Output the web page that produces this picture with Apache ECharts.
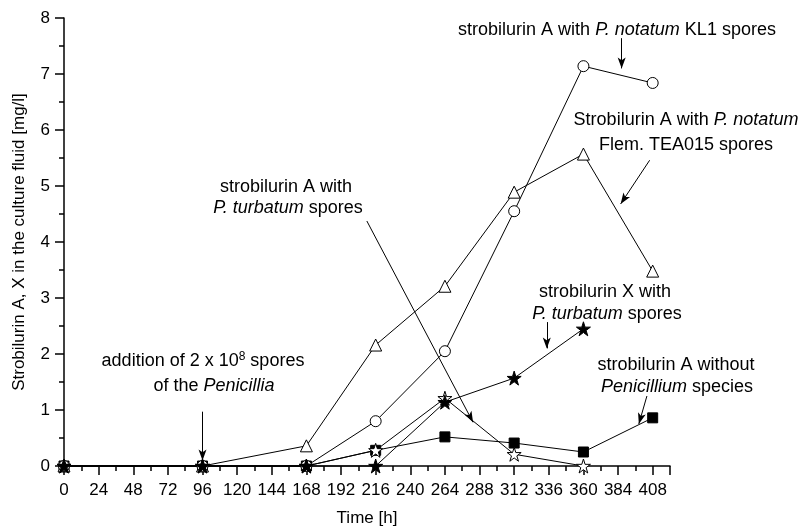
<!DOCTYPE html>
<html>
<head>
<meta charset="utf-8">
<script src="https://cdn.jsdelivr.net/npm/echarts@6/dist/echarts.min.js"></script>
<style>html,body{margin:0;padding:0;background:#fff}#c{width:801px;height:528px}</style>
</head>
<body>
<div id="c"></div>
<script>
const times = [0, 96, 168, 216, 264, 312, 360, 408];
const kl1 = [0, 0, 0, 0.8, 2.05, 4.55, 7.14, 6.84];
const tea015 = [0, 0, 0.36, 2.16, 3.21, 4.89, 5.57, 3.48];
const noPen = [0, 0, 0, 0.28, 0.52, 0.41, 0.25, 0.86];
const turbA = [0, 0, 0, 0.28, 1.21, 0.21, 0, null];
const turbX = [0, 0, 0, 0, 1.14, 1.57, 2.45, null];
const xTickLabels = [0, 24, 48, 72, 96, 120, 144, 168, 192, 216, 240, 264, 288, 312, 336, 360, 384, 408];
const yTickLabels = [0, 1, 2, 3, 4, 5, 6, 7, 8];

const FONT = '"Liberation Sans", Arial, sans-serif';
const STAR = 'path://M50,0 L61.2,34.5 L97.6,34.5 L68.2,55.9 L79.4,90.5 L50,69.1 L20.6,90.5 L31.8,55.9 L2.4,34.5 L38.8,34.5 Z';

function pairs(arr) {
  const out = [];
  times.forEach((t, i) => { if (arr[i] !== null && arr[i] !== undefined) out.push([t, arr[i]]); });
  return out;
}
function lineSeries(name, arr, symbol, size, fill) {
  return {
    name, type: 'line', data: pairs(arr), xAxisIndex: 0, yAxisIndex: 0,
    symbol, symbolSize: size, showAllSymbol: true,
    lineStyle: { color: '#000', width: 1 },
    itemStyle: { color: fill, borderColor: '#000', borderWidth: 1 },
    emphasis: { disabled: true }, animation: false, clip: false
  };
}

const chart = echarts.init(document.getElementById('c'), null, { renderer: 'canvas' });

const arrowSeg = (x1, y1, x2, y2) => [
  { coord: [x1, y1], symbol: 'none' },
  { coord: [x2, y2], symbol: 'arrow' }
];

const FS = 18;
const txt = (x, y, text) => ({
  type: 'text', x, y, silent: true,
  style: {
    text, font: FS + 'px ' + FONT, fill: '#000', align: 'center', verticalAlign: 'middle',
    lineHeight: 20,
    rich: {
      i: { fontStyle: 'italic', fontSize: FS, fontFamily: FONT, lineHeight: 20 },
      sup: { fontSize: 12, fontFamily: FONT, verticalAlign: 'top', lineHeight: 12 }
    }
  }
});

const option = {
  backgroundColor: '#fff',
  animation: false,
  grid: { left: 64, right: 131, top: 18, bottom: 62, containLabel: false, outerBoundsMode: 'none' },
  xAxis: [
    {
      type: 'value', min: 0, max: 420, interval: 12,
      name: 'Time [h]', nameLocation: 'middle', nameGap: 44,
      nameTextStyle: { fontFamily: FONT, fontSize: 17, color: '#000' },
      axisLine: { show: true, onZero: false, lineStyle: { color: '#000', width: 1.5 } },
      axisTick: { show: true, inside: false, length: 5, lineStyle: { color: '#000', width: 1.5 } },
      axisLabel: {
        margin: 16, fontFamily: FONT, fontSize: 17, color: '#000',
        formatter: v => (xTickLabels.indexOf(v) >= 0 ? String(v) : '')
      },
      splitLine: { show: false }
    },
    {
      type: 'value', min: 0, max: 420, interval: 24, position: 'bottom',
      axisLine: { show: false, onZero: false },
      axisTick: { show: true, inside: false, length: 9, lineStyle: { color: '#000', width: 1.5 } },
      axisLabel: { show: false }, splitLine: { show: false }
    }
  ],
  yAxis: {
    type: 'value', min: 0, max: 8, interval: 1,
    name: 'Strobilurin A, X in the culture fluid [mg/l]', nameLocation: 'middle', nameGap: 36,
    nameTextStyle: { fontFamily: FONT, fontSize: 17, color: '#000' },
    axisLine: { show: true, onZero: false, lineStyle: { color: '#000', width: 1.5 } },
    axisTick: { show: true, inside: false, length: 9, lineStyle: { color: '#000', width: 1.5 } },
    minorTick: { show: true, splitNumber: 2, length: 5, lineStyle: { color: '#000', width: 1.5 } },
    axisLabel: {
      margin: 14, fontFamily: FONT, fontSize: 17, color: '#000',
      formatter: v => (yTickLabels.indexOf(v) >= 0 ? String(v) : '')
    },
    splitLine: { show: false }, minorSplitLine: { show: false }
  },
  series: [
    lineSeries('strobilurin A without Penicillium', noPen, 'rect', 10, '#000'),
    lineSeries('strobilurin A with P. notatum Flem. TEA015', tea015, 'triangle', 12, '#fff'),
    lineSeries('strobilurin A with P. notatum KL1', kl1, 'circle', 11, '#fff'),
    lineSeries('strobilurin A with P. turbatum', turbA, STAR, 14, '#fff'),
    lineSeries('strobilurin X with P. turbatum', turbX, STAR, 14, '#000'),
    {
      type: 'line', data: [], xAxisIndex: 0, yAxisIndex: 0, silent: true,
      markLine: {
        silent: true, animation: false, symbolSize: [6, 11],
        lineStyle: { color: '#000', width: 1, type: 'solid' },
        label: { show: false }, emphasis: { disabled: true },
        data: [
          arrowSeg(386.5, 7.64, 386.5, 7.1),
          arrowSeg(405.9, 5.46, 385.8, 4.68),
          arrowSeg(209.9, 4.375, 283.5, 0.78),
          arrowSeg(334.6, 2.57, 334.6, 2.1),
          arrowSeg(404.0, 1.25, 398.4, 0.75),
          arrowSeg(96, 0.97, 96, 0.1)
        ]
      }
    }
  ],
  graphic: [
    txt(617, 30, 'strobilurin A with {i|P. notatum} KL1 spores'),
    txt(686, 120, 'Strobilurin A with {i|P. notatum}'),
    txt(686, 145, 'Flem. TEA015 spores'),
    txt(286, 187, 'strobilurin A with'),
    txt(288, 208, '{i|P. turbatum} spores'),
    txt(605, 292, 'strobilurin X with'),
    txt(607, 314, '{i|P. turbatum} spores'),
    txt(676, 365, 'strobilurin A without'),
    txt(677, 387, '{i|Penicillium} species'),
    txt(203, 361, 'addition of 2 x 10{sup|8} spores'),
    txt(214, 386, 'of the {i|Penicillia}')
  ]
};
chart.setOption(option);
</script>
</body>
</html>
